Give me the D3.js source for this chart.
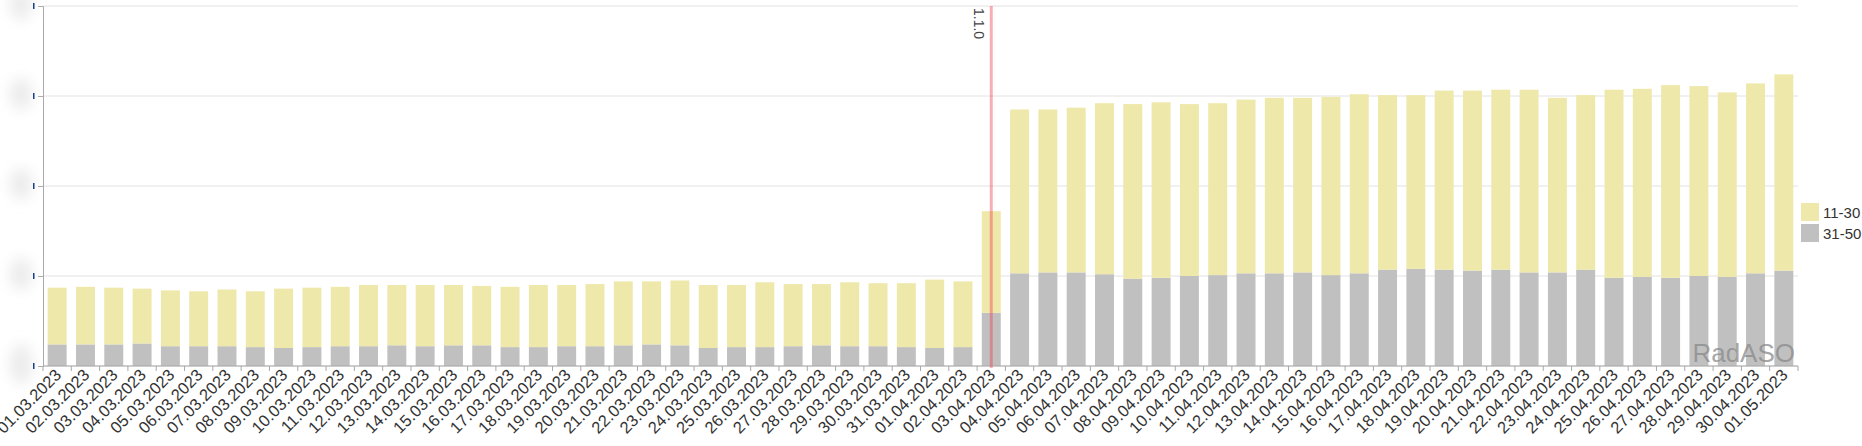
<!DOCTYPE html>
<html>
<head>
<meta charset="utf-8">
<script src="https://cdn.jsdelivr.net/npm/d3@7"></script>
<style>
  body { margin: 0; background: #fff; }
  svg { display: block; font-family: "Liberation Sans", Arial, sans-serif; }
</style>
</head>
<body>
<script>
var dates = [
  "01.03.2023", "02.03.2023", "03.03.2023", "04.03.2023", "05.03.2023", "06.03.2023", "07.03.2023",
  "08.03.2023", "09.03.2023", "10.03.2023", "11.03.2023", "12.03.2023", "13.03.2023", "14.03.2023",
  "15.03.2023", "16.03.2023", "17.03.2023", "18.03.2023", "19.03.2023", "20.03.2023", "21.03.2023",
  "22.03.2023", "23.03.2023", "24.03.2023", "25.03.2023", "26.03.2023", "27.03.2023", "28.03.2023",
  "29.03.2023", "30.03.2023", "31.03.2023", "01.04.2023", "02.04.2023", "03.04.2023", "04.04.2023",
  "05.04.2023", "06.04.2023", "07.04.2023", "08.04.2023", "09.04.2023", "10.04.2023", "11.04.2023",
  "12.04.2023", "13.04.2023", "14.04.2023", "15.04.2023", "16.04.2023", "17.04.2023", "18.04.2023",
  "19.04.2023", "20.04.2023", "21.04.2023", "22.04.2023", "23.04.2023", "24.04.2023", "25.04.2023",
  "26.04.2023", "27.04.2023", "28.04.2023", "29.04.2023", "30.04.2023", "01.05.2023"
];

// positions 31-50 (bottom, grey)
var pos31_50 = [
  24, 24, 24, 25, 22, 22, 22, 21, 20, 21, 22, 22, 23, 22, 23, 23, 21, 21, 22, 22, 23,
  24, 23, 20, 21, 21, 22, 23, 22, 22, 21, 20, 21, 59, 103, 104, 104, 102, 97, 98, 100,
  101, 103, 103, 104, 101, 103, 107, 108, 107, 106, 107, 104, 104, 107, 98, 99, 98, 100, 99, 103, 106
];

// positions 11-30 (top, yellow)
var pos11_30 = [
  63, 64, 63, 61, 62, 61, 63, 62, 66, 66, 66, 68, 67, 68, 67, 66, 67, 69, 68, 69, 71,
  70, 72, 70, 69, 72, 69, 68, 71, 70, 71, 76, 73, 113, 182, 181, 183, 190, 194, 195, 191,
  191, 193, 195, 194, 198, 199, 194, 193, 199, 200, 200, 203, 194, 194, 209, 209, 214, 211, 205, 211, 218
];

var yTicks = [0, 100, 200, 300, 400];
var seriesNames = ["11-30", "31-50"];
var seriesColors = ["#eee8aa", "#c0c0c0"];
var releaseDate = "03.04.2023";
var releaseLabel = "1.1.0";

var width = 1862, height = 446;
var margin = { top: 6, right: 64, bottom: 80, left: 43 };

var svg = d3.select("body").append("svg")
    .attr("width", width)
    .attr("height", height);

var x = d3.scaleBand()
    .domain(dates)
    .range([margin.left, width - margin.right])
    .paddingInner(0.33)
    .paddingOuter(0.165);

var y = d3.scaleLinear()
    .domain([0, 400])
    .range([height - margin.bottom, margin.top]);

var defs = svg.append("defs");
defs.append("filter").attr("id", "blur")
    .attr("x", "-80%").attr("y", "-80%").attr("width", "260%").attr("height", "260%")
    .append("feGaussianBlur").attr("stdDeviation", 7);

// grid
svg.append("g")
    .selectAll("line")
    .data(yTicks)
    .join("line")
    .attr("x1", margin.left)
    .attr("x2", width - margin.right)
    .attr("y1", d => y(d))
    .attr("y2", d => y(d))
    .attr("stroke", "#e2e2e2");

// stacked bars
var rows = dates.map(function (d, i) {
    return { date: d, "31-50": pos31_50[i], "11-30": pos11_30[i] };
});
var stack = d3.stack().keys(["31-50", "11-30"])(rows);
var color = d3.scaleOrdinal().domain(seriesNames).range(seriesColors);

svg.append("g")
    .selectAll("g")
    .data(stack)
    .join("g")
    .attr("fill", d => color(d.key))
    .selectAll("rect")
    .data(d => d)
    .join("rect")
    .attr("x", d => x(d.data.date))
    .attr("width", x.bandwidth())
    .attr("y", d => y(d[1]))
    .attr("height", d => y(d[0]) - y(d[1]));

// y axis (labels hidden / blurred out)
var yAxis = svg.append("g")
    .attr("transform", "translate(" + margin.left + ",0)")
    .call(d3.axisLeft(y).tickValues(yTicks).tickSize(5).tickFormat(""));
yAxis.selectAll("line, path").attr("stroke", "#a8a8a8");

var blobs = svg.append("g").attr("filter", "url(#blur)");
blobs.selectAll("ellipse")
    .data(yTicks)
    .join("ellipse")
    .attr("cx", 21)
    .attr("cy", d => y(d) - 2)
    .attr("rx", 11)
    .attr("ry", d => d === 0 ? 20 : 16)
    .attr("fill", "#ebebeb");
svg.append("g")
    .selectAll("rect")
    .data(yTicks)
    .join("rect")
    .attr("x", 33)
    .attr("y", d => y(d) - 3)
    .attr("width", 1.5)
    .attr("height", 6)
    .attr("fill", "#1a3f8a");

// x axis
var step = x.step();
var xAxis = svg.append("g")
    .attr("transform", "translate(0," + y(0) + ")");
xAxis.append("line")
    .attr("x1", margin.left)
    .attr("x2", width - margin.right)
    .attr("stroke", "#a8a8a8");
xAxis.selectAll(".tick")
    .data(dates.concat(["end"]))
    .join("line")
    .attr("class", "tick")
    .attr("x1", (d, i) => x.range()[0] + step * i)
    .attr("x2", (d, i) => x.range()[0] + step * i)
    .attr("y2", 5)
    .attr("stroke", "#a8a8a8");
xAxis.selectAll("text")
    .data(dates)
    .join("text")
    .attr("transform", d => "translate(" + (x(d) + x.bandwidth() / 2 + 5) + ",10)rotate(-45)")
    .attr("text-anchor", "end")
    .attr("font-size", 16.5)
    .attr("fill", "#333")
    .text(d => d);

// release marker
var rx = x(releaseDate) + x.bandwidth() / 2;
svg.append("line")
    .attr("x1", rx).attr("x2", rx)
    .attr("y1", margin.top).attr("y2", y(0) + 2)
    .attr("stroke", "rgba(240,60,80,0.42)")
    .attr("stroke-width", 3);
svg.append("text")
    .attr("transform", "translate(" + (rx - 17) + "," + (margin.top + 2) + ")rotate(90)")
    .attr("font-size", 14)
    .attr("fill", "#444")
    .text(releaseLabel);

// legend
var legend = svg.append("g")
    .attr("transform", "translate(1801,203)");
var li = legend.selectAll("g")
    .data(seriesNames)
    .join("g")
    .attr("transform", (d, i) => "translate(0," + i * 21 + ")");
li.append("rect")
    .attr("width", 18).attr("height", 18)
    .attr("fill", d => color(d));
li.append("text")
    .attr("x", 22).attr("y", 14.5)
    .attr("font-size", 15)
    .attr("fill", "#333")
    .text(d => d);

// watermark
svg.append("text")
    .attr("x", 1795).attr("y", 362)
    .attr("text-anchor", "end")
    .attr("font-size", 26)
    .attr("fill", "#8a8a8a")
    .attr("fill-opacity", 0.75)
    .text("RadASO");
</script>
</body>
</html>
